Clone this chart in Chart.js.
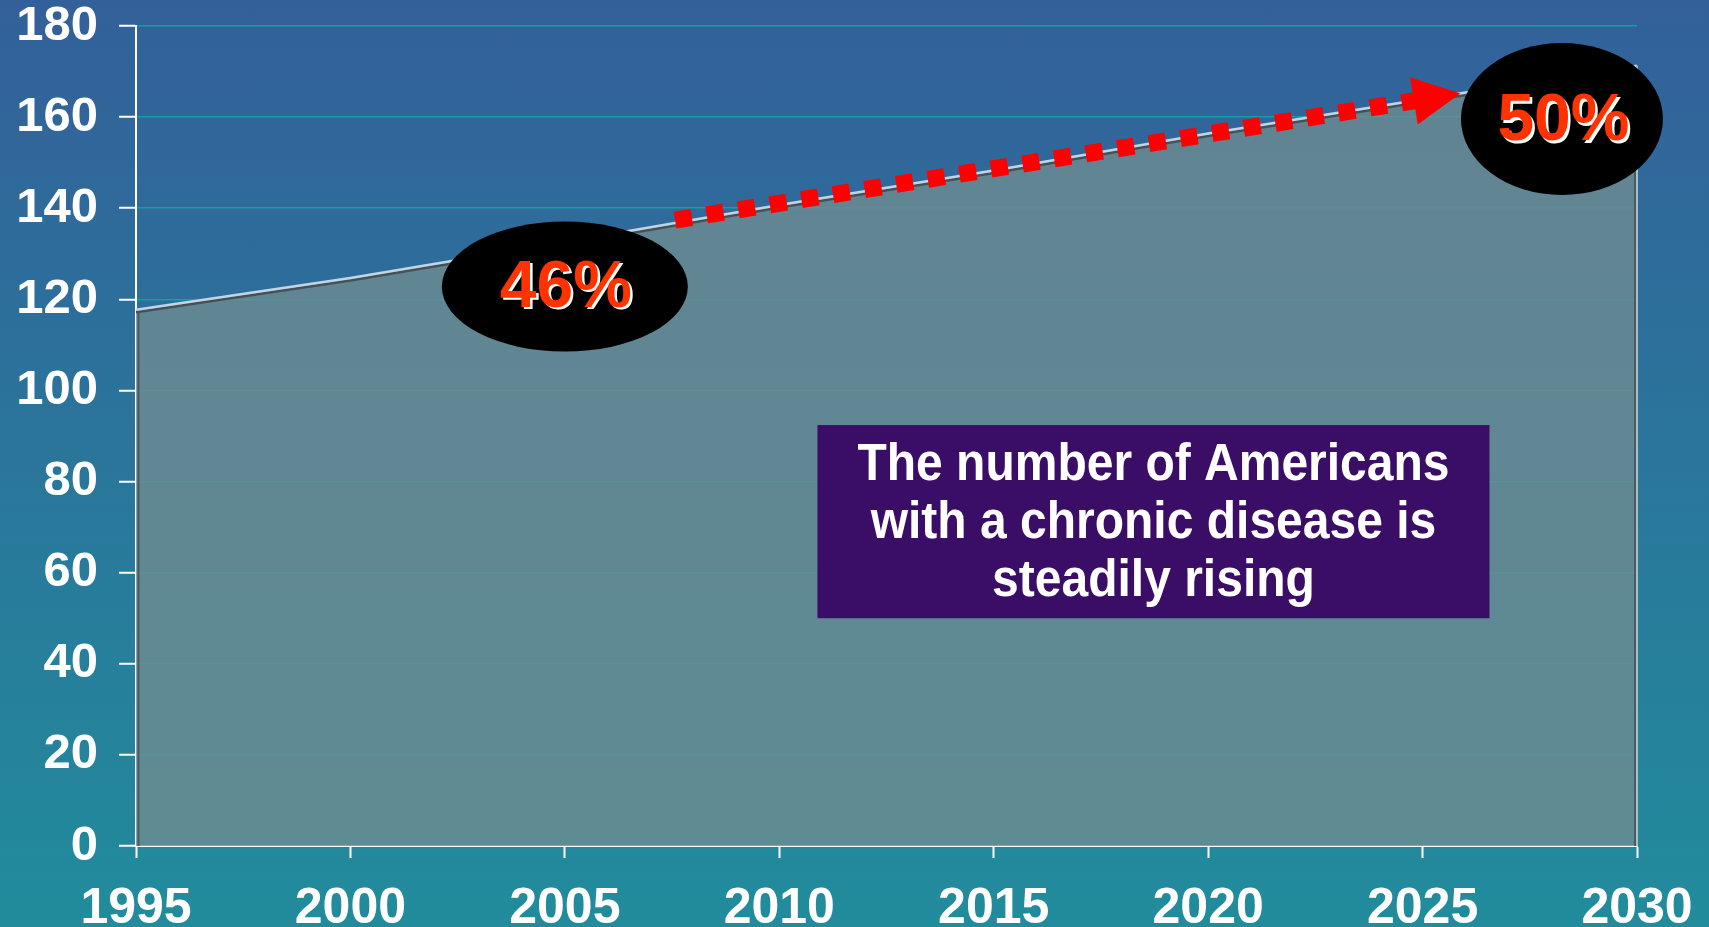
<!DOCTYPE html>
<html>
<head>
<meta charset="utf-8">
<title>Americans with a chronic disease</title>
<script src="https://cdn.jsdelivr.net/npm/chart.js@4.4.0/dist/chart.umd.min.js"></script>
<style>
  html, body { margin: 0; padding: 0; overflow: hidden; }
  body { width: 1709px; height: 927px; background: linear-gradient(to bottom, #33609a 0%, #218c9c 100%); }
  #wrap { position: relative; width: 1709px; height: 927px; }
</style>
</head>
<body>
<div id="wrap"><canvas id="chronicChart"></canvas></div>
<script>
// values (millions of people)
const years = [1995, 2000, 2005, 2010, 2015, 2020, 2025, 2030];
const people = [117.7, 124.7, 132.6, 140.7, 148.3, 156.4, 163.9, 171.3];
const yTicks = [0, 20, 40, 60, 80, 100, 120, 140, 160, 180];
const xTicks = years;

const calloutTexts = ['46%', '50%'];
const noteLines = ['The number of Americans', 'with a chronic disease is', 'steadily rising'];

// where the overlays sit, in chart units
const calloutAnchors = [
    { x: 2005.0, y: 122.8, rx: 123, ry: 65, dx: 1, dy: 2 },
    { x: 2028.25, y: 159.6, rx: 101, ry: 76, dx: 1.5, dy: 3 }
];
const arrowFrom = { x: 2007.57, y: 137.4 };
const arrowTo = { x: 2025.88, y: 165.2 };
const noteBox = { x1: 2010.89, x2: 2026.56, yTop: 92.4, yBottom: 50.0 };

const FONT = '"Liberation Sans", Arial, Helvetica, sans-serif';

// light edge with a dark drop line under it, like the slide's 3D area
const lineShadow = {
    id: 'lineShadow',
    beforeDatasetDraw(chart) {
        const c = chart.ctx;
        c.save();
        c.shadowColor = 'rgba(70,78,82,0.95)';
        c.shadowOffsetX = 0;
        c.shadowOffsetY = 2.5;
        c.shadowBlur = 0;
    },
    afterDatasetDraw(chart) {
        chart.ctx.restore();
    }
};

const overlays = {
    id: 'overlays',
    afterDatasetsDraw(chart) {
        const ctx = chart.ctx;
        const ys = chart.scales.y;
        const meta = chart.getDatasetMeta(0);
        const first = meta.data[0], last = meta.data[meta.data.length - 1];
        const base = ys.getPixelForValue(0);

        // side edges of the area
        ctx.save();
        ctx.lineWidth = 2;
        ctx.strokeStyle = 'rgba(75,85,90,0.9)';
        ctx.beginPath();
        ctx.moveTo(first.x + 2.5, first.y + 2);
        ctx.lineTo(first.x + 2.5, base);
        ctx.moveTo(last.x - 2, last.y + 2);
        ctx.lineTo(last.x - 2, base);
        ctx.stroke();
        ctx.strokeStyle = 'rgb(170,190,200)';
        ctx.beginPath();
        ctx.moveTo(last.x, last.y);
        ctx.lineTo(last.x, base);
        ctx.stroke();
        ctx.restore();
    },
    afterDraw(chart) {
        const ctx = chart.ctx;
        const xs = chart.scales.x, ys = chart.scales.y;
        ctx.save();

        // dotted red arrow
        const p0 = { x: xs.getPixelForValue(arrowFrom.x), y: ys.getPixelForValue(arrowFrom.y) };
        const p1 = { x: xs.getPixelForValue(arrowTo.x), y: ys.getPixelForValue(arrowTo.y) };
        const ang = Math.atan2(p1.y - p0.y, p1.x - p0.x);
        const cs = Math.cos(ang), sn = Math.sin(ang);
        const headLen = 47, headHalf = 24;
        const bx = p1.x - headLen * cs, by = p1.y - headLen * sn;
        ctx.strokeStyle = '#ff0000';
        ctx.fillStyle = '#ff0000';
        ctx.lineWidth = 17;
        ctx.lineCap = 'butt';
        ctx.setLineDash([17, 15]);
        ctx.beginPath();
        ctx.moveTo(p0.x, p0.y);
        ctx.lineTo(bx + 2 * cs, by + 2 * sn);
        ctx.stroke();
        ctx.setLineDash([]);
        ctx.beginPath();
        ctx.moveTo(p1.x, p1.y);
        ctx.lineTo(bx - headHalf * sn, by + headHalf * cs);
        ctx.lineTo(bx + headHalf * sn, by - headHalf * cs);
        ctx.closePath();
        ctx.fill();

        // black ellipses with the percentages
        ctx.font = 'bold 66px ' + FONT;
        ctx.textAlign = 'center';
        ctx.textBaseline = 'middle';
        calloutAnchors.forEach(function(a, i) {
            const cx = xs.getPixelForValue(a.x), cy = ys.getPixelForValue(a.y);
            ctx.fillStyle = '#000';
            ctx.beginPath();
            ctx.ellipse(cx, cy, a.rx, a.ry, 0, 0, Math.PI * 2);
            ctx.fill();
            ctx.fillStyle = '#ffffff';
            ctx.fillText(calloutTexts[i], cx + a.dx + 2.5, cy + a.dy + 2.5);
            ctx.fillStyle = '#ff3300';
            ctx.fillText(calloutTexts[i], cx + a.dx, cy + a.dy);
        });

        // purple note
        const l = xs.getPixelForValue(noteBox.x1), r = xs.getPixelForValue(noteBox.x2);
        const t = ys.getPixelForValue(noteBox.yTop), b = ys.getPixelForValue(noteBox.yBottom);
        ctx.fillStyle = '#3a0d66';
        ctx.fillRect(l, t, r - l, b - t);
        ctx.fillStyle = '#ffffff';
        ctx.font = 'bold 48px ' + FONT;
        const mid = (t + b) / 2;
        noteLines.forEach(function(line, i) {
            ctx.save();
            ctx.translate((l + r) / 2, mid + (i - 1) * 58 + 2);
            ctx.scale(1, 1.07);
            ctx.fillText(line, 0, 0);
            ctx.restore();
        });

        ctx.restore();
    }
};

const points = years.map((yr, i) => ({ x: yr, y: people[i] }));

new Chart(document.getElementById('chronicChart'), {
    type: 'line',
    data: {
        datasets: [{
            data: points,
            borderColor: 'rgb(192,214,230)',
            borderWidth: 2.5,
            backgroundColor: 'rgba(110,140,145,0.8)',
            fill: 'origin',
            tension: 0,
            pointRadius: 0
        }]
    },
    options: {
        responsive: true,
        maintainAspectRatio: false,
        animation: false,
        layout: { padding: { top: 26, right: 72, left: 0, bottom: 0 } },
        plugins: {
            legend: { display: false },
            tooltip: { enabled: false },
            filler: { drawTime: 'beforeDatasetsDraw' }
        },
        scales: {
            x: {
                type: 'linear',
                min: 1995,
                max: 2030,
                afterBuildTicks: s => { s.ticks = xTicks.map(v => ({ value: v })); },
                afterFit: s => { s.height = 81; s.paddingLeft = 0; s.paddingRight = 0; },
                grid: { drawOnChartArea: false, tickLength: 12, tickColor: '#ffffff', tickWidth: 2 },
                border: { color: '#ffffff', width: 2 },
                ticks: {
                    color: '#ffffff',
                    font: { family: FONT, size: 50, weight: 'bold' },
                    padding: 21,
                    maxRotation: 0,
                    autoSkip: false,
                    callback: v => String(v)
                }
            },
            y: {
                min: 0,
                max: 180,
                afterBuildTicks: s => { s.ticks = yTicks.map(v => ({ value: v })); },
                afterFit: s => { s.width = 136; s.paddingTop = 0; s.paddingBottom = 0; },
                grid: { color: '#10a0a0', lineWidth: 1.5, tickLength: 17, tickColor: '#ffffff', tickWidth: 2 },
                border: { color: '#ffffff', width: 2 },
                ticks: {
                    color: '#ffffff',
                    font: { family: FONT, size: 49, weight: 'bold', lineHeight: 1 },
                    padding: 21
                }
            }
        }
    },
    plugins: [lineShadow, overlays]
});
</script>
</body>
</html>
